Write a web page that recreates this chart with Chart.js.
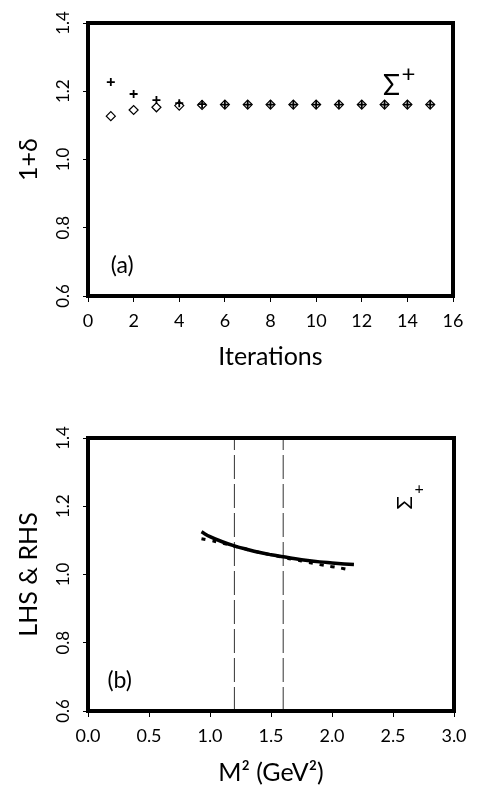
<!DOCTYPE html>
<html lang="en">
<head>
<meta charset="UTF-8">
<script src="https://cdn.jsdelivr.net/npm/chart.js"></script>
<title>Sigma+ iterations</title>
<style>
  body { margin: 0; background: #fff; }
  .panel { position: absolute; left: 0; width: 482px; }
  #top { top: 0; height: 400px; }
  #bottom { top: 400px; height: 392px; }
</style>
</head>
<body>
<div class="panel" id="top"><canvas id="chartA"></canvas></div>
<div class="panel" id="bottom"><canvas id="chartB"></canvas></div>
<script>
// panel (a): 1+delta vs iteration
const iterations = [1, 2, 3, 4, 5, 6, 7, 8, 9, 10, 11, 12, 13, 14, 15];
const plusValues = [1.227, 1.192, 1.174, 1.165, 1.162, 1.161, 1.161, 1.161, 1.161, 1.161, 1.161, 1.161, 1.161, 1.161, 1.161];
const diamondValues = [1.127, 1.145, 1.153, 1.158, 1.160, 1.161, 1.161, 1.161, 1.161, 1.161, 1.161, 1.161, 1.161, 1.161, 1.161];
const xTicksA = [0, 2, 4, 6, 8, 10, 12, 14, 16];

// panel (b): LHS & RHS vs M^2
const m2Solid = [0.93, 1.0, 1.1, 1.2, 1.3, 1.4, 1.5, 1.6, 1.7, 1.8, 1.9, 2.0, 2.1, 2.18];
const lhsValues = [1.125, 1.111, 1.096, 1.084, 1.074, 1.065, 1.058, 1.052, 1.046, 1.041, 1.037, 1.034, 1.031, 1.029];
const m2Dashed = [0.93, 1.0, 1.1, 1.2, 1.3, 1.4, 1.5, 1.6, 1.7, 1.8, 1.9, 2.0, 2.1, 2.15];
const rhsValues = [1.105, 1.100, 1.092, 1.083, 1.074, 1.065, 1.058, 1.050, 1.043, 1.036, 1.029, 1.023, 1.017, 1.013];
const windowEdges = [1.2, 1.6];
const yTicks = [0.6, 0.8, 1.0, 1.2, 1.4];

const font = "Lato, 'DejaVu Sans', sans-serif";

// thick frame + text labels inside the plot
const framePlugin = {
    id: 'frame',
    afterDraw(chart, args, opts) {
        const c = chart.ctx;
        const a = chart.chartArea;
        c.save();
        c.strokeStyle = '#000';
        c.lineWidth = 4;
        c.strokeRect(a.left, a.top, a.right - a.left, a.bottom - a.top);
        c.fillStyle = '#000';
        c.font = '23px ' + font;
        c.textAlign = 'center';
        c.textBaseline = 'middle';
        const xs = chart.scales.x, ys = chart.scales.y;
        c.fillText(opts.tag, xs.getPixelForValue(opts.tagAt[0]), ys.getPixelForValue(opts.tagAt[1]));
        const sx = xs.getPixelForValue(opts.sigmaAt[0]);
        const sy = ys.getPixelForValue(opts.sigmaAt[1]);
        c.save();
        c.translate(sx, sy);
        c.rotate(opts.sigmaRot);
        c.font = opts.sigmaSize + 'px ' + font;
        c.fillText('Σ', 0, 0);
        c.restore();
        c.font = opts.plusSize + 'px ' + font;
        c.fillText('+', sx + opts.plusOff[0], sy + opts.plusOff[1]);
        c.restore();
    }
};

function yAxis(title) {
    return {
        min: 0.6, max: 1.4,
        afterFit(s) { s.width = 74; },
        afterBuildTicks(s) { s.ticks = yTicks.map(v => ({ value: v })); },
        grid: { drawOnChartArea: false, color: '#000', tickLength: 5 },
        border: { display: false },
        ticks: {
            color: '#000', minRotation: 90, maxRotation: 90, crossAlign: 'center', padding: 8,
            font: { family: font, size: 17 },
            callback: v => v.toFixed(1)
        },
        title: { display: true, text: title, color: '#000', font: { family: font, size: 25 }, padding: { top: 0, bottom: 0 } }
    };
}

new Chart(document.getElementById('chartA'), {
    type: 'scatter',
    data: {
        datasets: [
            {
                label: 'plus',
                data: iterations.map((x, i) => ({ x: x, y: plusValues[i] })),
                pointStyle: 'cross', pointRadius: 4, borderColor: '#000', borderWidth: 1.8
            },
            {
                label: 'diamond',
                data: iterations.map((x, i) => ({ x: x, y: diamondValues[i] })),
                pointStyle: 'rectRot', pointRadius: 4.5, borderColor: '#000', backgroundColor: 'rgba(0,0,0,0)', borderWidth: 1.2
            }
        ]
    },
    options: {
        animation: false, responsive: true, maintainAspectRatio: false,
        layout: { padding: { top: 23, right: 29, left: 14, bottom: 28 } },
        plugins: {
            legend: { display: false }, tooltip: { enabled: false },
            frame: { tag: '(a)', tagAt: [1.5, 0.69], sigmaAt: [13.3, 1.215], sigmaRot: 0, sigmaSize: 28, plusSize: 24, plusOff: [17, -12] }
        },
        scales: {
            x: {
                type: 'linear', min: 0, max: 16,
                afterFit(s) { s.height = 76; },
                afterBuildTicks(s) { s.ticks = xTicksA.map(v => ({ value: v })); },
                grid: { drawOnChartArea: false, color: '#000', tickLength: 6 },
                border: { display: false },
                ticks: { color: '#000', padding: 8, font: { family: font, size: 18 } },
                title: { display: true, text: 'Iterations', color: '#000', font: { family: font, size: 25 }, padding: { top: 0, bottom: 0 } }
            },
            y: yAxis('1+δ')
        }
    },
    plugins: [framePlugin]
});

new Chart(document.getElementById('chartB'), {
    type: 'line',
    data: {
        datasets: [
            {
                label: 'LHS',
                data: m2Solid.map((x, i) => ({ x: x, y: lhsValues[i] })),
                borderColor: '#000', borderWidth: 3.5, pointRadius: 0, tension: 0.4
            },
            {
                label: 'RHS',
                data: m2Dashed.map((x, i) => ({ x: x, y: rhsValues[i] })),
                borderColor: '#000', borderWidth: 3, borderDash: [4, 7], pointRadius: 0, tension: 0.4
            },
            ...windowEdges.map(e => ({
                label: 'edge ' + e,
                data: [{ x: e, y: 0.6 }, { x: e, y: 1.4 }],
                borderColor: '#333', borderWidth: 1, borderDash: [24, 5], pointRadius: 0
            }))
        ]
    },
    options: {
        animation: false, responsive: true, maintainAspectRatio: false,
        layout: { padding: { top: 38, right: 28, left: 14, bottom: 4 } },
        plugins: {
            legend: { display: false }, tooltip: { enabled: false },
            frame: { tag: '(b)', tagAt: [0.26, 0.69], sigmaAt: [2.6, 1.21], sigmaRot: -Math.PI / 2, sigmaSize: 22, plusSize: 16, plusOff: [14, -14] }
        },
        scales: {
            x: {
                type: 'linear', min: 0, max: 3,
                afterFit(s) { s.height = 77; },
                grid: { drawOnChartArea: false, color: '#000', tickLength: 6 },
                border: { display: false },
                ticks: { color: '#000', stepSize: 0.5, padding: 8, font: { family: font, size: 18 }, callback: v => v.toFixed(1) },
                title: { display: true, text: 'M² (GeV²)', color: '#000', font: { family: font, size: 25 }, padding: { top: 0, bottom: 0 } }
            },
            y: yAxis('LHS & RHS')
        }
    },
    plugins: [framePlugin]
});
</script>
</body>
</html>
